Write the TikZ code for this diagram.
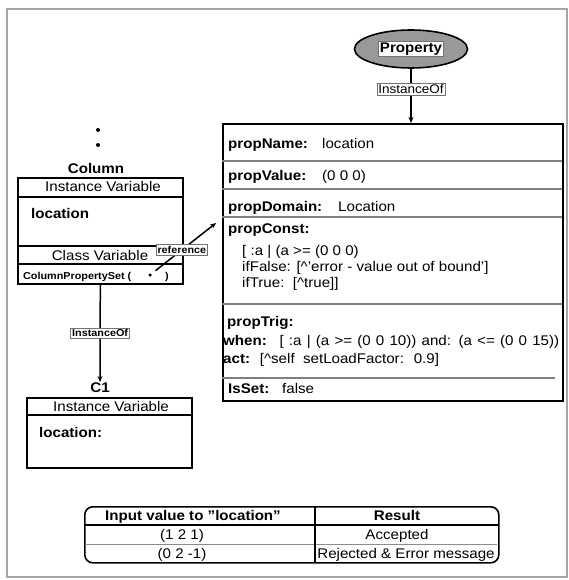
\documentclass[tikz,border=0pt]{standalone}
\usepackage{fontspec}
\setmainfont{Liberation Sans}[FakeStretch=1.08]
\usetikzlibrary{arrows.meta,shapes.geometric}

\newcommand{\fsMain}{\fontsize{14}{16}\selectfont}
\newcommand{\fsTag}{\fontsize{12.5}{14}\selectfont}
\newcommand{\fsSmall}{\fontsize{10}{12}\selectfont}

\tikzset{
  frame/.style={draw=black!35, line width=1.2pt},
  box/.style={draw=black, line width=1.6pt, inner sep=0pt},
  heavyrule/.style={draw=black, line width=1.4pt},
  rule/.style={draw=black!50, line width=1.1pt},
  thinrule/.style={draw=black!45, line width=0.8pt},
  link/.style={draw=black, line width=1.5pt, -{Stealth[length=6pt,width=5pt]}},
  tag/.style={draw=black!55, line width=0.6pt, fill=white, inner sep=1.5pt, font=\fsTag},
  smalltag/.style={draw=black!55, line width=0.6pt, fill=white, inner sep=1.5pt, font=\bfseries\fsSmall},
  lbl/.style={anchor=base west, inner sep=0pt, font=\bfseries\fsMain},
  val/.style={anchor=base west, inner sep=0pt, font=\fsMain},
  ctr/.style={anchor=base, inner sep=0pt, font=\fsMain},
  ctrb/.style={anchor=base, inner sep=0pt, font=\bfseries\fsMain},
  propoval/.style={ellipse, draw=black, line width=1.6pt, fill=black!40,
    minimum width=113pt, minimum height=38pt, inner sep=0pt}
}

\begin{document}
\begin{tikzpicture}[x=1pt,y=-1pt]
\useasboundingbox (0,0) rectangle (568,580);
\draw[frame] (7,9) rectangle (567,577);

% ---- the Property class ----
\node[propoval] (prop) at (411,49) {};
\node[tag, font=\bfseries\fsMain] (proptag) at (prop.center) {Property};

% ---- the property object ----
\node[box, minimum width=340pt, minimum height=277pt, anchor=north west] (obj) at (222,123) {};
\draw[rule] (222,161) -- (562,161);
\draw[rule] (222,189) -- (562,189);
\draw[rule] (222,217) -- (562,217);
\draw[rule] (222,304) -- (562,304);
\draw[rule] (222,378) -- (555,378);

\node[lbl] (pname) at (228,149) {propName:};
\node[val] (pnamev) at (322,149) {location};
\node[lbl] (pvalue) at (228,180) {propValue:};
\node[val] (pvaluev) at (322,180) {(0 0 0)};
\node[lbl] (pdomain) at (228,211) {propDomain:};
\node[val] (pdomainv) at (338,211) {Location};
\node[lbl] (pconst) at (228,233) {propConst:};
\node[val] (c1line) at (242,255) {[ :a | (a >= (0 0 0)};
\node[val] (c2line) at (242,271) {ifFalse: [\textasciicircum'error - value out of bound']};
\node[val] (c3line) at (242,287) {ifTrue:\ \ [\textasciicircum true]]};
\node[lbl] (ptrig) at (227,326) {propTrig:};
\node[val] (twhen) at (223,345) {\makebox[336pt][s]{\textbf{when:} \ [ :a | (a >= (0 0 10)) and: (a <= (0 0 15))}};
\node[val] (tact) at (223,363) {\textbf{act:} \ [\textasciicircum self\ \ setLoadFactor: \ 0.9]};
\node[lbl] (pisset) at (228,393) {IsSet:};
\node[val] (pissetv) at (282,393) {false};

\draw[link] (prop.south) -- node[tag, pos=0.38] (inst1) {InstanceOf} (prop.south |- obj.north);

% ---- the Column class ----
\fill (98,130) circle (2);
\fill (98,145) circle (2);
\node[ctrb] (colname) at (96,173) {Column};
\node[box, minimum width=165pt, minimum height=106pt, anchor=north west] (col) at (17,177) {};
\draw[heavyrule] (17,197) -- (182,197);
\draw[heavyrule] (17,246) -- (182,246);
\draw[heavyrule] (17,264) -- (182,264);
\node[ctr] (colinst) at (103,191) {Instance Variable};
\node[lbl] (colloc) at (31,218) {location};
\node[ctr] (colclass) at (100,260) {Class Variable};
\node[anchor=base west, inner sep=0pt, font=\bfseries\fsSmall] (colset) at (23,279) {ColumnPropertySet (};
\node[circle, fill=black, inner sep=0pt, minimum size=3.5pt] (refdot) at (150,275) {};
\node[anchor=base, inner sep=0pt, font=\bfseries\fsSmall] (colclose) at (167,279) {)};

\coordinate (reftip) at (216,223);
\draw[link, shorten <=5pt] (refdot) -- node[smalltag, pos=0.47] (refl) {reference} (reftip);

% ---- the instance C1 ----
\node[ctrb] (c1name) at (100,392) {C1};
\node[box, minimum width=165pt, minimum height=70pt, anchor=north west] (c1) at (26,397) {};
\draw[heavyrule] (26,415) -- (191,415);
\node[ctr] (c1inst) at (111,411) {Instance Variable};
\node[lbl] (c1loc) at (39,437) {location:};

\draw[link] (col.south) -- node[smalltag, pos=0.5] (inst2) {InstanceOf} (c1name.north);

% ---- result table ----
\node[box, rounded corners=8pt, minimum width=414pt, minimum height=56pt, anchor=north west] (tbl) at (84,506) {};
\draw[heavyrule] (84,525) -- (498,525);
\draw[thinrule] (85,544) -- (497,544);
\draw[heavyrule] (315,506) -- (315,562);
\node[ctrb] (th1) at (193,520) {Input value to \symbol{34}location\symbol{34}};
\node[ctrb] (th2) at (397,520) {Result};
\node[ctr] (r1a) at (182,539) {(1 2 1)};
\node[ctr] (r1b) at (397,539) {Accepted};
\node[ctr] (r2a) at (182,558) {(0 2 -1)};
\node[ctr] (r2b) at (406,558) {Rejected \& Error message};
\end{tikzpicture}
\end{document}
